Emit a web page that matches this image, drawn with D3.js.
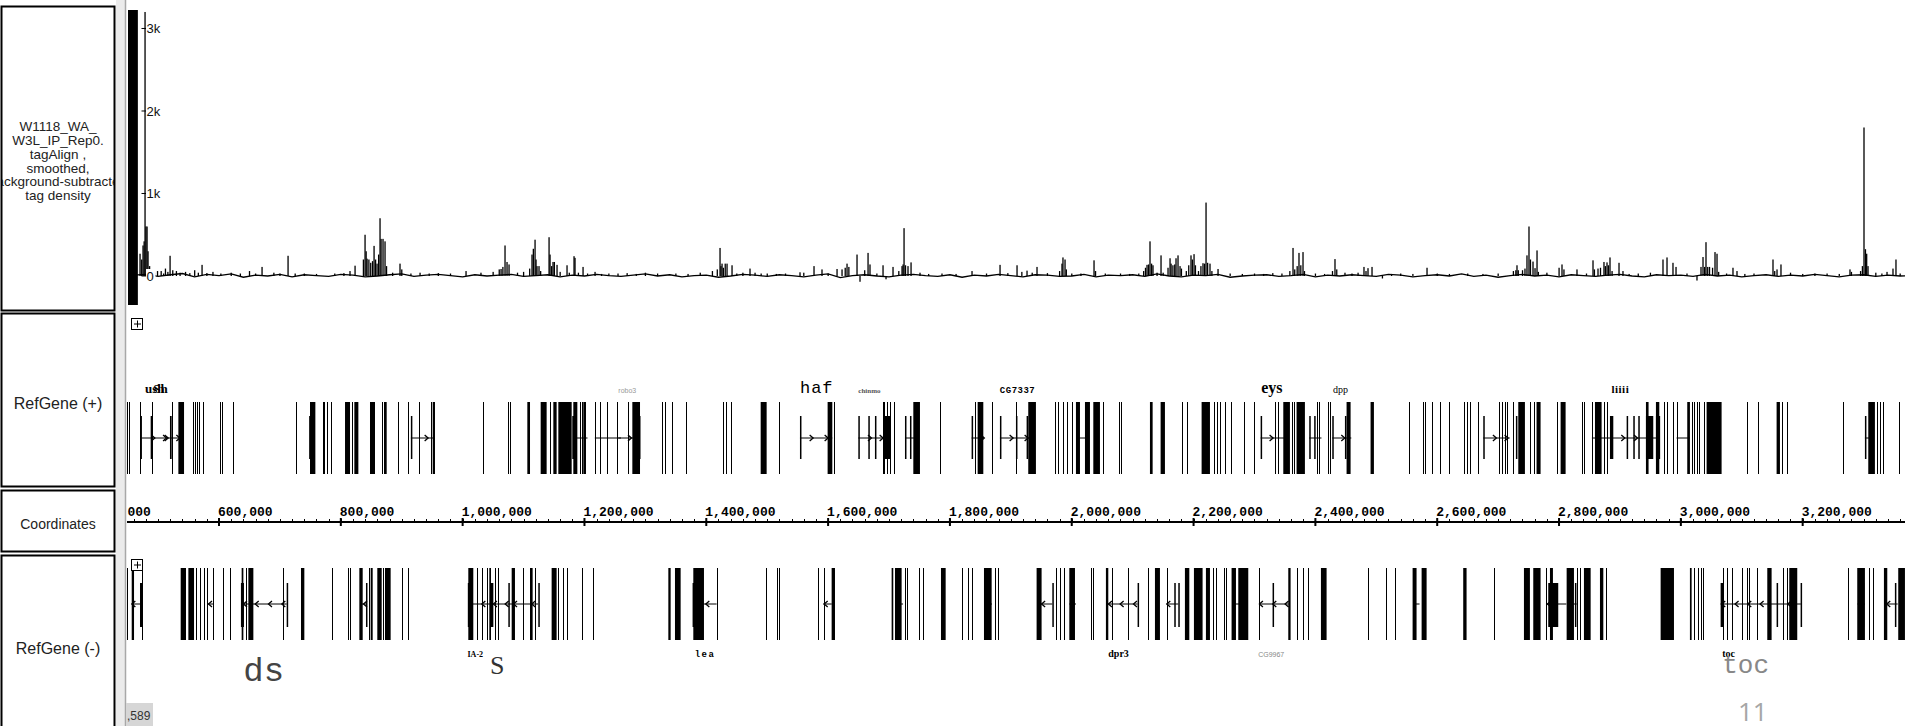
<!DOCTYPE html>
<html>
<head>
<meta charset="utf-8">
<script src="https://cdn.jsdelivr.net/npm/d3@7"></script>
<style>
body { margin: 0; background: #fff; overflow: hidden; }
svg { display: block; }
</style>
</head>
<body>
<div id="browser"></div>
<script>
// ---- data (genomic positions in kb) ----
var trackLabelLines = [
    ["W1118_WA_", "W3L_IP_Rep0.", "tagAlign ,", "smoothed,", "background-subtracted", "tag density"],
    ["RefGene (+)"],
    ["Coordinates"],
    ["RefGene (-)"]
];

var densityTickValues = [3000, 2000, 1000, 0];
var densityTickLabels = ["3k", "2k", "1k", "0"];

// saturated start of the density track
var saturatedRanges = [[450.6, 466.8]];

// background wiggle of the density track, one value every 20 kb from 460 kb
var baselineStartKb = 460;
var baselineStepKb = 20;
var baselineValues = [10, 20, -5, 15, 30, -10, 20, 5, 25, -15, 10, 0, 20, -10, 15, 5, -5, 20, 10, -10,
    0, 15, 25, -5, 10, 20, 5, -10, 15, 0, 10, 20, -5, 5, 15, -10, 10, 0, 20, 5,
    -5, 10, 25, 0, 15, -10, 5, 10, -15, 0, 20, 10, -5, 15, 5, -10, 10, 25, -20, 5,
    15, 0, -10, 10, 20, 5, -5, 15, -15, 10, 0, 20, 5, -10, 15, 10, -5, 0, 20, -10,
    10, 5, 15, -5, 25, 0, -10, 10, 5, 20, -15, 0, 10, 15, -5, 5, 20, -10, 10, 0,
    15, 5, -5, 20, 10, -10, 5, 15, 0, 25, -5, 10, -15, 5, 20, 0, 10, -10, 15, 5,
    -5, 10, 20, 0, -10, 15, 5, 10, -5, 20, 0, 10, -10, 5, 15, -5, 10, 0, 20, 5, -10, 10,
    15, -5, 10, 0, 5, 10];

// density peaks [kb, tag density]
var densityPeaks = [
    [470.3, 270], [473, 200], [475.2, 370], [477, 420], [478.5, 3200], [480, 600], [481.8, 600], [483.4, 300], [486, 120],
    [494, 40], [499, 60], [505, 60], [509, 30], [512, 90], [516, 50], [519.6, 245], [524, 70], [530, 60], [536, 40],
    [545, 50], [552, 35], [560, 70], [566, 40], [572.1, 135], [580, 35], [590, 50], [603, 30], [620, 40], [635, 30],
    [650, 60], [660, 30], [670.6, 110], [690, 40], [700, 30], [713.3, 245], [725, 30], [740, 30], [760, 25], [790, 30],
    [805, 35], [815, 60], [823.3, 125], [837, 200],
    [839.7, 500], [841.5, 300], [843, 210], [846, 200], [849, 160], [852, 180], [854.5, 365], [857, 200], [859.4, 150],
    [862, 260], [864.3, 700], [866, 450], [869.2, 450], [872.5, 420], [875, 120], [885, 40], [897.1, 150], [900, 80],
    [915, 30], [930, 40], [945, 30], [960, 35], [980, 30],
    [1005.5, 60], [1030, 40], [1050, 50], [1060, 80], [1063, 85], [1066, 110], [1069.5, 370], [1072.8, 170], [1076.1, 140],
    [1090, 40], [1100, 50], [1110, 90], [1113.8, 260], [1116, 330], [1118.8, 440], [1120.4, 200], [1122, 120], [1125.3, 120],
    [1128, 60], [1141.8, 470], [1143.4, 260], [1146, 120], [1148.3, 170], [1150.5, 170], [1154.9, 135], [1160, 50],
    [1171.3, 130], [1175, 40], [1182.8, 240], [1184.4, 220], [1190, 40], [1197.6, 110], [1205, 30], [1217.3, 50],
    [1228, 25], [1240, 30], [1255, 30], [1270, 35], [1285, 25], [1300, 40], [1320, 30], [1350, 30], [1370, 25],
    [1390, 40], [1410, 60], [1418, 80], [1422.5, 340], [1424, 120], [1425.8, 150],
    [1428, 100], [1431, 150], [1434, 150], [1442.2, 130], [1450, 30], [1460, 40], [1471.7, 90], [1480, 40], [1490, 30],
    [1500, 30], [1515, 25], [1530, 30], [1553.8, 45], [1560, 40], [1576.8, 120], [1589.9, 80], [1600, 30], [1614.6, 85],
    [1622.8, 80], [1628, 100], [1631, 150], [1634, 110], [1647.4, 260], [1652.3, -70], [1660, 70], [1665.5, 280],
    [1668.7, 140], [1680, 30], [1690.1, 130], [1695, -40], [1706.5, 110], [1716, 60], [1721.3, 120], [1723, 140],
    [1724.6, 580], [1727, 130], [1731.1, 120], [1736.1, 165], [1750.8, 40], [1765, 25], [1786.9, 30], [1810, 25],
    [1836.2, 60], [1860, 30], [1882.2, 135], [1895, 35],
    [1910.1, 130], [1918, 50], [1926.5, 65], [1935, 40], [1942.9, 110], [1960, 35], [1980, 60], [1983.9, 150],
    [1985.5, 225], [1988.9, 200], [1991, 80], [2000, 30], [2015, 30], [2036.5, 190], [2039, 60], [2055, 30],
    [2080, 30], [2095, 25], [2110, 30], [2118, 60], [2121, 100], [2123.5, 135], [2126, 140], [2128.4, 420], [2131, 150],
    [2133.3, 130], [2140, 40], [2146.5, 250], [2150, 40], [2158, 100], [2161.3, 215], [2163, 150], [2166, 130], [2169, 140],
    [2171.1, 215], [2174.4, 250], [2177.7, 120], [2180, 90], [2188, 60], [2192, 130], [2195.7, 250], [2198, 200],
    [2200.7, 265], [2203, 130], [2208, 60], [2212, 120], [2215.4, 155], [2218, 150], [2220.4, 890], [2223, 160],
    [2226.9, 150], [2230, 60], [2240.1, 85], [2260, 30], [2280, 25], [2300, 30], [2315, 25], [2330, 35], [2345, 30],
    [2358, 60], [2363.2, 340], [2366, 80], [2370, 120],
    [2373, 280], [2376, 130], [2379.6, 290], [2382, 60], [2400, 30], [2415, 25], [2428, 60], [2432.1, 205], [2435, 80],
    [2448.5, 40], [2460, 30], [2470, 40], [2479.7, 110], [2483, 60], [2486.3, 95], [2492.9, 110], [2510, -30], [2525, 25],
    [2540, 30], [2560, 25], [2583.2, 100], [2600, 30], [2620, 25],
    [2650, 30], [2675, 25], [2700, 30], [2725, 60], [2729, 70], [2730.9, 130], [2733, 70], [2740, 70], [2744, 90],
    [2747.3, 250], [2750.6, 600], [2753, 200], [2757.2, 175], [2760.5, 95], [2763.8, 310], [2766, 50], [2780, 40],
    [2800, 100], [2804.8, 140], [2808, 80], [2829.4, 80], [2845, 30], [2855.7, 190], [2858, 80], [2863.9, 90], [2868, 100],
    [2873.7, 170], [2876, 120], [2878.7, 165], [2881, 130], [2883.6, 225], [2887, 60], [2898.4, 160], [2904.9, 60],
    [2915, 25], [2930, 30], [2950, 40], [2970.6, 200], [2977.2, 225], [2987, 160], [2992, 110], [3010, 30],
    [3026.4, -55], [3033, 110], [3036.3, 230], [3039, 110], [3041.2, 410], [3044, 110], [3047, 110], [3052, 100],
    [3056, 290], [3059.3, 270], [3062, 50], [3075, 30], [3085.5, 100], [3092.1, 60], [3105, 25], [3120, 30],
    [3151.2, 200], [3154, 60], [3157.8, 80], [3164.3, 140], [3180, 40], [3200, 25], [3220, 30], [3240, 30], [3260, 25],
    [3277.6, 80], [3280, 50], [3295, 60], [3298, 120], [3300.6, 1800], [3303, 325], [3305, 270],
    [3307.2, 120], [3320, 40], [3330, 30], [3338.4, 50], [3348.2, 90], [3353.1, 200], [3360, 30]
];

// RefGene (+) strand: thin exons, wide exons, UTR pieces, introns, strand arrows
var plusLines = [448.4, 452.8, 470.3, 489.5, 522.3, 557.9, 560.6, 564.5, 567.7, 574.3, 601.7, 605.0, 623.6, 726.4,
    770.2, 773.0, 776.8, 783.9, 818.9, 867.1, 894.4, 910.8, 928.9, 948.0, 1034.0, 1075.0, 1077.7, 1143.4, 1192.6,
    1196.5, 1217.3, 1225.5, 1237.5, 1252.8, 1270.9, 1327.8, 1332.2, 1343.1, 1366.7, 1428.0, 1432.3, 1440.5, 1519.4,
    1609.6, 1689.5, 1692.3, 1696.1, 1701.6, 1708.1, 1783.6, 1841.1, 1868.5, 1908.4, 1972.4, 1977.9, 1986.1, 1991.6,
    1999.8, 2051.8, 2077.5, 2080.8, 2180.4, 2189.7, 2234.0, 2237.8, 2243.3, 2251.5, 2261.4, 2282.7, 2299.1, 2333.6,
    2338.0, 2360.9, 2365.3, 2402.0, 2405.8, 2421.1, 2423.9, 2554.1, 2576.0, 2579.8, 2590.8, 2604.4, 2619.8, 2643.9,
    2648.2, 2653.7, 2667.4, 2701.9, 2705.7, 2711.1, 2713.9, 2724.8, 2752.2, 2758.8, 2796.0, 2837.1, 2840.9, 2854.6,
    2873.7, 2878.1, 2972.8, 2976.6, 2986.5, 2993.0, 3017.7, 3021.5, 3027.0, 3030.3, 3037.9, 3109.1, 3127.1, 3165.4,
    3174.7, 3266.6, 3321.4, 3326.8, 3331.2, 3358.6];
var plusBlocks = [[533.3, 542.6], [749.4, 758.2], [806.9, 815.1], [822.2, 828.8], [847.9, 856.1], [870.9, 875.3],
    [950.8, 954.6], [1106.2, 1110.6], [1128.1, 1137.9], [1148.9, 1154.3], [1157.1, 1179.0], [1181.7, 1188.3],
    [1198.1, 1202.5], [1278.6, 1291.2], [1489.3, 1499.1], [1599.2, 1606.9], [1739.9, 1750.8], [1845.5, 1854.8],
    [1928.6, 1941.2], [2006.9, 2013.5], [2021.7, 2029.9], [2035.4, 2046.3], [2128.4, 2132.8], [2145.9, 2153.0],
    [2213.2, 2226.9], [2347.3, 2358.2], [2369.1, 2382.8], [2451.2, 2457.8], [2490.6, 2496.1], [2733.1, 2744.0],
    [2763.1, 2769.7], [2802.6, 2810.8], [2859.0, 2869.9], [2942.7, 2947.0], [2959.1, 2964.6], [3010.5, 3014.9],
    [3042.3, 3066.9], [3157.2, 3162.7], [3307.7, 3318.6]];
var plusShort = [[471, 472.5], [487.8, 490], [519.5, 522.3], [748, 752], [915, 916.5], [1180, 1186], [1288, 1292],
    [1553.8, 1555], [1649.6, 1651], [1666, 1667.5], [1676.9, 1678], [1693, 1702], [1726.2, 1727.5], [1734.4, 1736],
    [1835.6, 1837], [1882.1, 1883.5], [1908.4, 1910], [1925.9, 1927.2], [2310.1, 2311.5], [2389.9, 2391.3],
    [2398, 2399], [2427.7, 2429], [2448.5, 2450], [2675.6, 2677], [2729.2, 2731.5], [2883.6, 2889.1], [2911.0, 2912.3],
    [2921.9, 2923.2], [2930.1, 2931.4], [2942.7, 2954.7], [2959.1, 2966], [3302.2, 3303.5]];
var plusIntrons = [[473, 538], [915, 954], [1187, 1205], [1217, 1260], [1255.6, 1291], [1553.8, 1606.9], [1649.6, 1701.6],
    [1726.2, 1745], [1835.6, 1854.8], [1882.1, 1934], [2010, 2029], [2310.1, 2351], [2389.9, 2410], [2427.7, 2459],
    [2675.6, 2719], [2854, 2964.6], [2993, 3014.9], [3302.2, 3313]];
var plusArrows = [492.2, 511.4, 514.1, 533.3, 940.9, 1274.7, 1573, 1597.6, 1668.7, 1687.9, 1854, 1901.3, 1925.9,
    2328.1, 2445.8, 2694.7, 2713.9, 2905.5, 2926.3];
var plusLabels = ["ush", "Sh", "robo3", "haf", "chinmo", "CG7337", "eys", "dpp", "liiii"];
var plusLabelKb = [478.5, 492, 1255.6, 1553.8, 1649.6, 1882, 2311, 2429, 2886];

// RefGene (-) strand
var minusLines = [449.5, 473.1, 562.3, 568.8, 575.9, 579.8, 590.7, 606.0, 618.1, 644.3, 704.5, 785.0, 811.2, 815.1,
    846.8, 869.8, 899.9, 910.8, 1023.0, 1031.2, 1039.4, 1053.1, 1058.6, 1098.5, 1118.8, 1157.1, 1165.3, 1170.7, 1195.4,
    1213.4, 1417.0, 1498.0, 1515.5, 1519.4, 1582.8, 1593.2, 1726.2, 1728.9, 1749.7, 1756.3, 1819.2, 1829.1, 1836.7,
    1874.0, 1879.4, 1974.1, 1980.6, 1987.8, 2031.5, 2035.4, 2065.5, 2092.8, 2125.6, 2155.7, 2231.3, 2236.7, 2249.9,
    2253.1, 2307.9, 2369.1, 2380.1, 2388.3, 2486.8, 2515.8, 2530.6, 2693.6, 2778.5, 2828.9, 2834.3, 2876.5, 3022.0,
    3028.6, 3032.4, 3035.7, 3068.5, 3075.1, 3083.3, 3099.7, 3107.9, 3112.3, 3124.4, 3168.1, 3174.7, 3274.9, 3309.3, 3315.9];
var minusBlocks = [[456.7, 460.5], [537.1, 545.8], [549.7, 559.0], [637.2, 640.0], [648.2, 656.4], [734.6, 740.1],
    [830.4, 835.9], [849.0, 852.3], [859.9, 867.1], [872.5, 881.8], [1009.3, 1017.5], [1043.8, 1046.5], [1080.5, 1085.9],
    [1110.6, 1114.9], [1146.1, 1154.3], [1337.7, 1341.5], [1348.6, 1357.9], [1378.7, 1396.2], [1605.8, 1611.3],
    [1704.3, 1707.0], [1709.8, 1720.7], [1785.3, 1793.0], [1855.9, 1868.5], [1942.3, 1950.5], [1996.0, 2005.3],
    [2056.1, 2060.0], [2136.6, 2144.8], [2185.8, 2193.0], [2200.6, 2214.8], [2220.3, 2226.9], [2262.4, 2269.6],
    [2273.4, 2289.8], [2355.5, 2359.3], [2409.1, 2418.4], [2559.6, 2566.1], [2574.4, 2582.6], [2642.7, 2648.2],
    [2742.4, 2752.2], [2757.7, 2769.7], [2785.1, 2790], [2812.5, 2824.5], [2840.9, 2851.9], [2867.2, 2872.7],
    [2966.8, 2988.7], [3014.9, 3017.7], [3141.9, 3149.0], [3178.0, 3191.1], [3289.6, 3302.2], [3333.4, 3338.9],
    [3356.9, 3367.9]];
var minusShort = [[470.3, 474.7], [636, 641], [711.1, 712.3], [831.5, 833], [841.3, 842.5], [1008.5, 1012],
    [1044.9, 1050.4], [1075.0, 1076.2], [1124.2, 1125.4], [1377.5, 1381], [1968.1, 1969.3], [2108.1, 2109.3],
    [2168.3, 2169.5], [2174.9, 2176.1], [2329.7, 2330.9], [2782.3, 2798.7], [2826.1, 2827.3], [3065.3, 3069.6],
    [3157.2, 3158.4], [3196.6, 3197.8], [3291, 3301], [3351.4, 3352.6]];
var minusIntrons = [[456.7, 473.1], [582, 590.7], [640, 711.1], [834, 841.3], [1009, 1124], [1395, 1417], [1592, 1606],
    [1715, 1723], [1856, 1869], [1943, 1968], [1996, 2007], [2057, 2108], [2155.7, 2175], [2265, 2276], [2307.9, 2356],
    [2565, 2571], [2779, 2812], [2819, 2829], [3065, 3197], [3290, 3302], [3339, 3356]];
var minusArrows = [459.4, 585.2, 642.7, 661.9, 683.7, 705.6, 839.7, 1034, 1053, 1072.3, 1086, 1116, 1401.7, 1596,
    1953, 2062.7, 2081.9, 2103.8, 2158.5, 2310.6, 2332.5, 2352.7, 2783.4, 3069.6, 3091.5, 3112.3, 3132.6, 3178, 3340.5];
var minusLabels = ["IA-2", "lea", "dpr3", "CG9967", "toc"];
var minusLabelKb = [1008, 1381, 2060, 2306, 3068];
var bigLabels = ["ds", "S", "toc"];
var bigLabelKb = [640, 1045, 3068];

// coordinates ruler
var coordTickValues = [400, 600, 800, 1000, 1200, 1400, 1600, 1800, 2000, 2200, 2400, 2600, 2800, 3000, 3200];
var coordTickLabels = ["400,000", "600,000", "800,000", "1,000,000", "1,200,000", "1,400,000", "1,600,000",
    "1,800,000", "2,000,000", "2,200,000", "2,400,000", "2,600,000", "2,800,000", "3,000,000", "3,200,000"];

// ---- layout ----
var svgWidth = 1905, svgHeight = 726;
var dataLeft = 127;

var svg = d3.select("#browser").append("svg")
    .attr("width", svgWidth)
    .attr("height", svgHeight);

var x = d3.scaleLinear().domain([450.6, 3368.0]).range([128, 1905]);
var yDensity = d3.scaleLinear().domain([-351.5, 3224]).range([305, 10]);

svg.append("defs").append("clipPath").attr("id", "dataClip")
    .append("rect").attr("x", dataLeft).attr("y", 0).attr("width", svgWidth - dataLeft).attr("height", svgHeight);

// label panel
var boxes = [[6, 311], [313, 487], [490, 552], [555, 745]];
var labelFont = "'Liberation Sans', Arial, sans-serif";
var boxFontSize = [13.5, 16, 14, 16];
var boxCenter = [161, 403, 524, 648];
boxes.forEach(function (b, i) {
    var cid = "boxClip" + i;
    svg.select("defs").append("clipPath").attr("id", cid)
        .append("rect").attr("x", 2).attr("y", b[0]).attr("width", 112).attr("height", b[1] - b[0]);
    svg.append("rect")
        .attr("x", 1.5).attr("y", b[0] + 0.5)
        .attr("width", 113).attr("height", b[1] - b[0] - 1)
        .style("fill", "#fff").style("stroke", "#000").style("stroke-width", 2);
    var lines = trackLabelLines[i];
    var lh = 13.8;
    var size = boxFontSize[i];
    var g = svg.append("g").attr("clip-path", "url(#" + cid + ")");
    lines.forEach(function (t, j) {
        g.append("text")
            .attr("x", 58)
            .attr("y", boxCenter[i] + (j - (lines.length - 1) / 2) * lh + size * 0.35)
            .attr("text-anchor", "middle")
            .style("font-family", labelFont)
            .style("font-size", size + "px")
            .style("fill", "#222")
            .text(t);
    });
});

// separator column
svg.append("rect").attr("x", 116).attr("y", 0).attr("width", 9).attr("height", svgHeight).style("fill", "#ebebeb");
svg.append("line").attr("x1", 125.5).attr("x2", 125.5).attr("y1", 0).attr("y2", svgHeight)
    .style("stroke", "#a8a8a8").style("stroke-width", 1.5);

var data = svg.append("g").attr("clip-path", "url(#dataClip)");

// ---- density track ----
data.selectAll("rect.sat").data(saturatedRanges).enter().append("rect")
    .attr("x", function (d) { return x(d[0]); })
    .attr("width", function (d) { return x(d[1]) - x(d[0]); })
    .attr("y", yDensity.range()[1]).attr("height", yDensity.range()[0] - yDensity.range()[1])
    .style("fill", "#000");

var baseline = baselineValues.map(function (v, i) { return [baselineStartKb + i * baselineStepKb, v]; });
data.append("path")
    .datum(baseline)
    .attr("d", d3.line().x(function (d) { return x(d[0]); }).y(function (d) { return yDensity(d[1]); }))
    .style("fill", "none").style("stroke", "#000").style("stroke-width", 1.3);

data.selectAll("rect.peak").data(densityPeaks).enter().append("rect")
    .attr("x", function (d) { return x(d[0]) - 0.6; })
    .attr("width", 1.3)
    .attr("y", function (d) { return Math.min(yDensity(d[1]), yDensity(0)); })
    .attr("height", function (d) { return Math.abs(yDensity(d[1]) - yDensity(0)); })
    .style("fill", "#000");

// density axis labels
densityTickValues.forEach(function (v, i) {
    var yy = yDensity(v);
    svg.append("rect").attr("x", 146).attr("y", yy - 7).attr("width", densityTickLabels[i].length * 7.5 + 2).attr("height", 14)
        .style("fill", "#fff");
    svg.append("line").attr("x1", 141.5).attr("x2", 146).attr("y1", yy).attr("y2", yy)
        .style("stroke", "#000").style("stroke-width", 1);
    svg.append("text").attr("x", 146.5).attr("y", yy + 5)
        .style("font-family", labelFont).style("font-size", "13px").style("fill", "#111")
        .text(densityTickLabels[i]);
});

// expand icons
function expandIcon(px, py) {
    svg.append("rect").attr("x", px + 0.5).attr("y", py + 0.5).attr("width", 11).attr("height", 11)
        .style("fill", "#fff").style("stroke", "#000").style("stroke-width", 1);
    svg.append("path").attr("d", "M" + (px + 3) + "," + (py + 6) + "h7M" + (px + 6.5) + "," + (py + 2.5) + "v7")
        .style("stroke", "#000").style("stroke-width", 1);
}

// ---- gene tracks ----
function drawGenes(g, full, short, midY, lines, blocks, shorts, introns, arrows, dir) {
    g.selectAll(null).data(introns).enter().append("line")
        .attr("x1", function (d) { return x(d[0]); }).attr("x2", function (d) { return x(d[1]); })
        .attr("y1", midY).attr("y2", midY)
        .style("stroke", "#000").style("stroke-width", 1);
    g.selectAll(null).data(lines).enter().append("rect")
        .attr("x", function (d) { return Math.round(x(d)); }).attr("width", 1)
        .attr("y", full[0]).attr("height", full[1] - full[0])
        .style("fill", "#000");
    g.selectAll(null).data(blocks).enter().append("rect")
        .attr("x", function (d) { return x(d[0]); })
        .attr("width", function (d) { return Math.max(1, x(d[1]) - x(d[0])); })
        .attr("y", full[0]).attr("height", full[1] - full[0])
        .style("fill", "#000");
    g.selectAll(null).data(shorts).enter().append("rect")
        .attr("x", function (d) { return x(d[0]); })
        .attr("width", function (d) { return Math.max(1.5, x(d[1]) - x(d[0])); })
        .attr("y", short[0]).attr("height", short[1] - short[0])
        .style("fill", "#000");
    g.selectAll(null).data(arrows).enter().append("path")
        .attr("d", function (d) {
            var ax = x(d);
            return "M" + (ax - 2 * dir) + "," + (midY - 3) + "L" + (ax + 1.5 * dir) + "," + midY + "L" + (ax - 2 * dir) + "," + (midY + 3);
        })
        .style("fill", "none").style("stroke", "#000").style("stroke-width", 1.3);
}

drawGenes(data, [402, 474], [416, 459], 438, plusLines, plusBlocks, plusShort, plusIntrons, plusArrows, 1);
drawGenes(data, [568, 640], [583, 627], 604, minusLines, minusBlocks, minusShort, minusIntrons, minusArrows, -1);

var serif = "'Liberation Serif', 'DejaVu Serif', serif";
var mono = "'Liberation Mono', 'DejaVu Sans Mono', monospace";
var labelStyle = {
    "ush": [13, serif, "bold", "#000", 0],
    "Sh": [13, serif, "bold", "#000", 0],
    "robo3": [7, labelFont, "normal", "#999", 0],
    "haf": [17, mono, "normal", "#000", 1],
    "chinmo": [7, serif, "bold", "#555", 0],
    "CG7337": [9, mono, "bold", "#000", 0.5],
    "eys": [16, serif, "bold", "#000", 0],
    "dpp": [10, serif, "normal", "#000", 0],
    "liiii": [11, serif, "bold", "#000", 0.5],
    "IA-2": [8, serif, "bold", "#000", 0],
    "lea": [9, mono, "bold", "#000", 1.5],
    "dpr3": [10, serif, "bold", "#000", 0],
    "CG9967": [7, labelFont, "normal", "#888", 0],
    "toc": [10, serif, "bold", "#000", 0]
};
function geneLabels(names, kbs, baseY) {
    names.forEach(function (n, i) {
        var s = labelStyle[n];
        data.append("text").attr("x", x(kbs[i])).attr("y", baseY)
            .style("font-family", s[1]).style("font-size", s[0] + "px")
            .style("font-weight", s[2]).style("fill", s[3]).style("letter-spacing", s[4] + "px")
            .text(n);
    });
}
geneLabels(plusLabels, plusLabelKb, 393);
geneLabels(minusLabels, minusLabelKb, 657);

var bigStyle = {
    "ds": [34, mono, "#444", 681],
    "S": [26, serif, "#333", 674],
    "toc": [26, mono, "#888", 673]
};
bigLabels.forEach(function (n, i) {
    var s = bigStyle[n];
    data.append("text").attr("x", x(bigLabelKb[i])).attr("y", s[3])
        .style("font-family", s[1]).style("font-size", s[0] + "px").style("fill", s[2])
        .text(n);
});

// ---- coordinates ruler ----
var axisY = 522;
data.append("line").attr("x1", dataLeft).attr("x2", svgWidth).attr("y1", axisY).attr("y2", axisY)
    .style("stroke", "#000").style("stroke-width", 2);
var minorTicks = d3.range(coordTickValues[0], 3368, 20);
data.selectAll(null).data(minorTicks).enter().append("line")
    .attr("x1", function (d) { return Math.round(x(d)) + 0.5; })
    .attr("x2", function (d) { return Math.round(x(d)) + 0.5; })
    .attr("y1", axisY - 3).attr("y2", axisY)
    .style("stroke", "#000").style("stroke-width", 1);
data.selectAll(null).data(coordTickValues).enter().append("rect")
    .attr("x", function (d) { return x(d) - 1; }).attr("width", 2)
    .attr("y", axisY - 4).attr("height", 8)
    .style("fill", "#000");
data.selectAll(null).data(coordTickValues).enter().append("text")
    .attr("x", function (d) { return x(d) - 1; })
    .attr("y", axisY - 6)
    .style("font-family", mono).style("font-size", "13px").style("font-weight", "bold").style("fill", "#000")
    .text(function (d, i) { return coordTickLabels[i]; });

expandIcon(131, 318);
expandIcon(131, 559);

// bottom status bits
svg.append("rect").attr("x", 126).attr("y", 703).attr("width", 27).attr("height", 23).style("fill", "#d6d6d6");
svg.append("text").attr("x", 127).attr("y", 720)
    .style("font-family", labelFont).style("font-size", "12px").style("fill", "#333").text(",589");
svg.append("text").attr("x", 1738).attr("y", 721)
    .style("font-family", "'Open Sans', 'Liberation Sans', sans-serif").style("font-size", "26px").style("fill", "#a6a6a6")
    .text("11");
</script>
</body>
</html>
